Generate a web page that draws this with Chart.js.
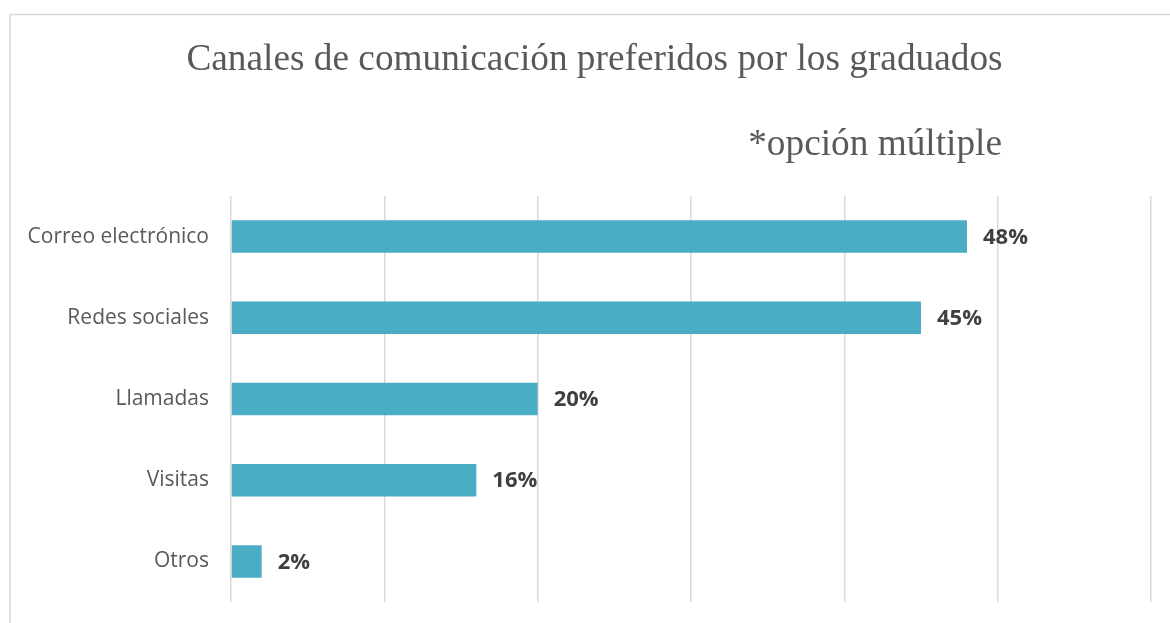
<!DOCTYPE html>
<html>
<head>
<meta charset="utf-8">
<script src="https://cdn.jsdelivr.net/npm/chart.js@4"></script>
<style>
html,body{margin:0;padding:0;background:#fff;}
#wrap{position:absolute;left:0;top:0;width:1170px;height:623px;}
</style>
</head>
<body>
<div id="wrap"><canvas id="c" width="1170" height="623"></canvas></div>
<script>
const titleText = "Canales de comunicación preferidos por los graduados";
const subtitleText = "*opción múltiple";
const categories = ["Correo electrónico", "Redes sociales", "Llamadas", "Visitas", "Otros"];
const values = [48, 45, 20, 16, 2];
const valueLabels = ["48%", "45%", "20%", "16%", "2%"];

const framePlugin = {
  id: 'frame',
  beforeDraw(chart) {
    const ctx = chart.ctx;
    ctx.save();
    ctx.strokeStyle = '#d9d9d9';
    ctx.lineWidth = 1.5;
    ctx.beginPath();
    ctx.moveTo(10, 700);
    ctx.lineTo(10, 14.5);
    ctx.lineTo(1200, 14.5);
    ctx.stroke();
    ctx.restore();
  }
};

const textPlugin = {
  id: 'texts',
  afterDraw(chart) {
    const ctx = chart.ctx;
    ctx.save();
    ctx.fillStyle = '#595959';
    ctx.font = '37.3px "Liberation Serif", "Times New Roman", serif';
    ctx.textBaseline = 'alphabetic';
    ctx.textAlign = 'center';
    ctx.fillText(titleText, 594.5, 70);
    ctx.textAlign = 'right';
    ctx.fillText(subtitleText, 1002, 155);
    // data labels
    ctx.fillStyle = '#404040';
    ctx.font = 'bold 22px "Open Sans", sans-serif';
    ctx.textAlign = 'left';
    ctx.textBaseline = 'middle';
    const meta = chart.getDatasetMeta(0);
    meta.data.forEach((bar, i) => {
      ctx.fillText(valueLabels[i], bar.x + 16, bar.y + 1);
    });
    ctx.restore();
  }
};

new Chart(document.getElementById('c'), {
  type: 'bar',
  data: {
    labels: categories,
    datasets: [{
      data: values,
      backgroundColor: '#4BACC6',
      borderWidth: 0,
      categoryPercentage: 0.4,
      barPercentage: 1.0
    }]
  },
  options: {
    indexAxis: 'y',
    responsive: false,
    animation: false,
    events: [],
    layout: { padding: { top: 196, right: 19, bottom: 21, left: 0 } },
    plugins: { legend: { display: false }, title: { display: false }, tooltip: { enabled: false } },
    scales: {
      x: {
        min: 0, max: 60,
        afterFit(s) { s.height = 0; s.paddingLeft = 0; s.paddingRight = 0; },
        ticks: { display: false, stepSize: 10 },
        grid: { color: '#d9d9d9', lineWidth: 1.5, drawTicks: false },
        border: { display: false }
      },
      y: {
        afterFit(s) { s.width = 231; s.paddingTop = 0; s.paddingBottom = 0; },
        ticks: { color: '#595959', font: { family: '"Open Sans", sans-serif', size: 21 }, padding: 22 },
        grid: { display: false, drawTicks: false },
        border: { display: false }
      }
    }
  },
  plugins: [framePlugin, textPlugin]
});
</script>
</body>
</html>
